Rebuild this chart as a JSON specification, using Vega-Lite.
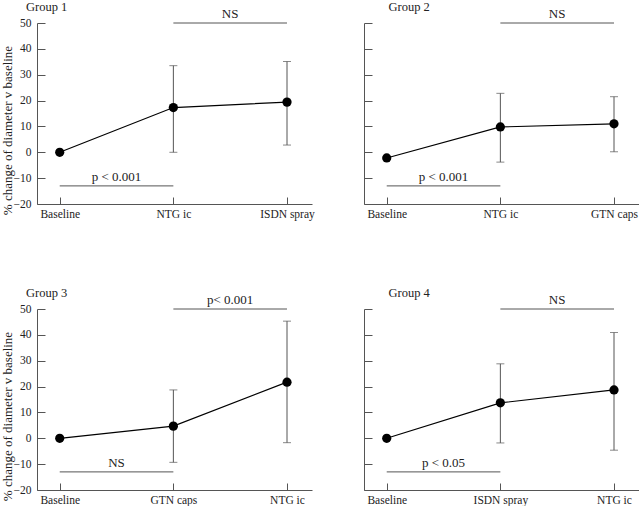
{
  "$schema": "https://vega.github.io/schema/vega-lite/v6.json",
  "padding": 0,
  "background": "white",
  "config": {
    "view": {"stroke": null},
    "font": "Liberation Serif",
    "axis": {"grid": false, "domainColor": "#555", "tickColor": "#555", "labelColor": "#222", "labelFont": "Liberation Serif", "labelFontSize": 11.5, "titleFont": "Liberation Serif", "titleFontWeight": "normal", "titleFontSize": 13, "titleColor": "#222"},
    "title": {"font": "Liberation Serif", "fontSize": 12.5, "fontWeight": "normal", "color": "#222", "anchor": "start", "dx": 25, "offset": -5}
  },
  "datasets": {
    "g1": [
      {"x": 0, "cond": "Baseline", "mean": 0},
      {"x": 1, "cond": "NTG ic", "mean": 17.3, "lo": 0, "hi": 33.5},
      {"x": 2, "cond": "ISDN spray", "mean": 19.4, "lo": 2.8, "hi": 35.1}
    ],
    "s1": [
      {"from": 1, "to": 2, "mid": 1.5, "y": 50, "label": "NS"},
      {"from": 0, "to": 1, "mid": 0.5, "y": -13, "label": "p < 0.001"}
    ],
    "g2": [
      {"x": 0, "cond": "Baseline", "mean": -2.2},
      {"x": 1, "cond": "NTG ic", "mean": 9.8, "lo": -3.8, "hi": 22.8},
      {"x": 2, "cond": "GTN caps", "mean": 11.0, "lo": 0.2, "hi": 21.5}
    ],
    "s2": [
      {"from": 1, "to": 2, "mid": 1.5, "y": 50, "label": "NS"},
      {"from": 0, "to": 1, "mid": 0.5, "y": -13, "label": "p < 0.001"}
    ],
    "g3": [
      {"x": 0, "cond": "Baseline", "mean": 0},
      {"x": 1, "cond": "GTN caps", "mean": 4.7, "lo": -9.3, "hi": 18.7},
      {"x": 2, "cond": "NTG ic", "mean": 21.7, "lo": -1.7, "hi": 45.3}
    ],
    "s3": [
      {"from": 1, "to": 2, "mid": 1.5, "y": 50, "label": "p< 0.001"},
      {"from": 0, "to": 1, "mid": 0.5, "y": -13, "label": "NS"}
    ],
    "g4": [
      {"x": 0, "cond": "Baseline", "mean": 0},
      {"x": 1, "cond": "ISDN spray", "mean": 13.7, "lo": -1.8, "hi": 28.8},
      {"x": 2, "cond": "NTG ic", "mean": 18.7, "lo": -4.6, "hi": 40.9}
    ],
    "s4": [
      {"from": 1, "to": 2, "mid": 1.5, "y": 50, "label": "NS"},
      {"from": 0, "to": 1, "mid": 0.5, "y": -13, "label": "p < 0.05"}
    ]
  },
  "columns": 2,
  "spacing": {"row": 105, "column": 52},
  "bounds": "flush",
  "concat": [
    {
      "title": "Group 1",
      "width": 275, "height": 181,
      "layer": [
        {"data": {"name": "g1"}, "mark": {"type": "rule", "color": "#555", "strokeWidth": 1},
         "encoding": {
           "x": {"field": "x", "type": "quantitative", "scale": {"domain": [-0.2, 2.22], "nice": false, "zero": false},
                 "axis": {"values": [0, 1, 2], "tickCount": 10, "title": null, "tickSize": -7, "labelPadding": 11, "labelExpr": "datum.value == 0 ? 'Baseline' : datum.value == 1 ? 'NTG ic' : 'ISDN spray'"}},
           "y": {"field": "lo", "type": "quantitative", "scale": {"domain": [-20, 50], "nice": false, "zero": false},
                 "axis": {"values": [-20, -10, 0, 10, 20, 30, 40, 50], "tickCount": 20, "tickSize": -8, "labelPadding": 14, "title": "% change of diameter v baseline", "titleX": -36, "titleY": 107, "titleBaseline": "top", "titleAlign": "center"}},
           "y2": {"field": "hi"}
         }},
        {"data": {"name": "g1"}, "mark": {"type": "tick", "orient": "horizontal", "size": 8, "thickness": 1, "color": "#555"},
         "encoding": {"x": {"field": "x", "type": "quantitative"}, "y": {"field": "lo", "type": "quantitative"}}},
        {"data": {"name": "g1"}, "mark": {"type": "tick", "orient": "horizontal", "size": 8, "thickness": 1, "color": "#555"},
         "encoding": {"x": {"field": "x", "type": "quantitative"}, "y": {"field": "hi", "type": "quantitative"}}},
        {"data": {"name": "s1"}, "mark": {"type": "rule", "color": "#555", "strokeWidth": 1},
         "encoding": {"x": {"field": "from", "type": "quantitative"}, "x2": {"field": "to"}, "y": {"field": "y", "type": "quantitative"}}},
        {"data": {"name": "s1"}, "mark": {"type": "text", "fontSize": 13, "baseline": "alphabetic", "dy": -5, "color": "#222"},
         "encoding": {"x": {"field": "mid", "type": "quantitative"}, "y": {"field": "y", "type": "quantitative"}, "text": {"field": "label"}}},
        {"data": {"name": "g1"}, "mark": {"type": "line", "color": "black", "strokeWidth": 1.2},
         "encoding": {"x": {"field": "x", "type": "quantitative"}, "y": {"field": "mean", "type": "quantitative"}}},
        {"data": {"name": "g1"}, "mark": {"type": "point", "filled": true, "color": "black", "opacity": 1, "size": 85},
         "encoding": {"x": {"field": "x", "type": "quantitative"}, "y": {"field": "mean", "type": "quantitative"}}}
      ]
    },
    {
      "title": "Group 2",
      "width": 275, "height": 181,
      "layer": [
        {"data": {"name": "g2"}, "mark": {"type": "rule", "color": "#555", "strokeWidth": 1},
         "encoding": {
           "x": {"field": "x", "type": "quantitative", "scale": {"domain": [-0.2, 2.22], "nice": false, "zero": false},
                 "axis": {"values": [0, 1, 2], "tickCount": 10, "title": null, "tickSize": -7, "labelPadding": 11, "labelExpr": "datum.value == 0 ? 'Baseline' : datum.value == 1 ? 'NTG ic' : 'GTN caps'"}},
           "y": {"field": "lo", "type": "quantitative", "scale": {"domain": [-20, 50], "nice": false, "zero": false},
                 "axis": {"values": [-20, -10, 0, 10, 20, 30, 40, 50], "tickCount": 20, "tickSize": -8, "labels": false, "title": null}},
           "y2": {"field": "hi"}
         }},
        {"data": {"name": "g2"}, "mark": {"type": "tick", "orient": "horizontal", "size": 8, "thickness": 1, "color": "#555"},
         "encoding": {"x": {"field": "x", "type": "quantitative"}, "y": {"field": "lo", "type": "quantitative"}}},
        {"data": {"name": "g2"}, "mark": {"type": "tick", "orient": "horizontal", "size": 8, "thickness": 1, "color": "#555"},
         "encoding": {"x": {"field": "x", "type": "quantitative"}, "y": {"field": "hi", "type": "quantitative"}}},
        {"data": {"name": "s2"}, "mark": {"type": "rule", "color": "#555", "strokeWidth": 1},
         "encoding": {"x": {"field": "from", "type": "quantitative"}, "x2": {"field": "to"}, "y": {"field": "y", "type": "quantitative"}}},
        {"data": {"name": "s2"}, "mark": {"type": "text", "fontSize": 13, "baseline": "alphabetic", "dy": -5, "color": "#222"},
         "encoding": {"x": {"field": "mid", "type": "quantitative"}, "y": {"field": "y", "type": "quantitative"}, "text": {"field": "label"}}},
        {"data": {"name": "g2"}, "mark": {"type": "line", "color": "black", "strokeWidth": 1.2},
         "encoding": {"x": {"field": "x", "type": "quantitative"}, "y": {"field": "mean", "type": "quantitative"}}},
        {"data": {"name": "g2"}, "mark": {"type": "point", "filled": true, "color": "black", "opacity": 1, "size": 85},
         "encoding": {"x": {"field": "x", "type": "quantitative"}, "y": {"field": "mean", "type": "quantitative"}}}
      ]
    },
    {
      "title": "Group 3",
      "width": 275, "height": 181,
      "layer": [
        {"data": {"name": "g3"}, "mark": {"type": "rule", "color": "#555", "strokeWidth": 1},
         "encoding": {
           "x": {"field": "x", "type": "quantitative", "scale": {"domain": [-0.2, 2.22], "nice": false, "zero": false},
                 "axis": {"values": [0, 1, 2], "tickCount": 10, "title": null, "tickSize": -7, "labelPadding": 11, "labelExpr": "datum.value == 0 ? 'Baseline' : datum.value == 1 ? 'GTN caps' : 'NTG ic'"}},
           "y": {"field": "lo", "type": "quantitative", "scale": {"domain": [-20, 50], "nice": false, "zero": false},
                 "axis": {"values": [-20, -10, 0, 10, 20, 30, 40, 50], "tickCount": 20, "tickSize": -8, "labelPadding": 14, "title": "% change of diameter v baseline", "titleX": -36, "titleY": 107, "titleBaseline": "top", "titleAlign": "center"}},
           "y2": {"field": "hi"}
         }},
        {"data": {"name": "g3"}, "mark": {"type": "tick", "orient": "horizontal", "size": 8, "thickness": 1, "color": "#555"},
         "encoding": {"x": {"field": "x", "type": "quantitative"}, "y": {"field": "lo", "type": "quantitative"}}},
        {"data": {"name": "g3"}, "mark": {"type": "tick", "orient": "horizontal", "size": 8, "thickness": 1, "color": "#555"},
         "encoding": {"x": {"field": "x", "type": "quantitative"}, "y": {"field": "hi", "type": "quantitative"}}},
        {"data": {"name": "s3"}, "mark": {"type": "rule", "color": "#555", "strokeWidth": 1},
         "encoding": {"x": {"field": "from", "type": "quantitative"}, "x2": {"field": "to"}, "y": {"field": "y", "type": "quantitative"}}},
        {"data": {"name": "s3"}, "mark": {"type": "text", "fontSize": 13, "baseline": "alphabetic", "dy": -5, "color": "#222"},
         "encoding": {"x": {"field": "mid", "type": "quantitative"}, "y": {"field": "y", "type": "quantitative"}, "text": {"field": "label"}}},
        {"data": {"name": "g3"}, "mark": {"type": "line", "color": "black", "strokeWidth": 1.2},
         "encoding": {"x": {"field": "x", "type": "quantitative"}, "y": {"field": "mean", "type": "quantitative"}}},
        {"data": {"name": "g3"}, "mark": {"type": "point", "filled": true, "color": "black", "opacity": 1, "size": 85},
         "encoding": {"x": {"field": "x", "type": "quantitative"}, "y": {"field": "mean", "type": "quantitative"}}}
      ]
    },
    {
      "title": "Group 4",
      "width": 275, "height": 181,
      "layer": [
        {"data": {"name": "g4"}, "mark": {"type": "rule", "color": "#555", "strokeWidth": 1},
         "encoding": {
           "x": {"field": "x", "type": "quantitative", "scale": {"domain": [-0.2, 2.22], "nice": false, "zero": false},
                 "axis": {"values": [0, 1, 2], "tickCount": 10, "title": null, "tickSize": -7, "labelPadding": 11, "labelExpr": "datum.value == 0 ? 'Baseline' : datum.value == 1 ? 'ISDN spray' : 'NTG ic'"}},
           "y": {"field": "lo", "type": "quantitative", "scale": {"domain": [-20, 50], "nice": false, "zero": false},
                 "axis": {"values": [-20, -10, 0, 10, 20, 30, 40, 50], "tickCount": 20, "tickSize": -8, "labels": false, "title": null}},
           "y2": {"field": "hi"}
         }},
        {"data": {"name": "g4"}, "mark": {"type": "tick", "orient": "horizontal", "size": 8, "thickness": 1, "color": "#555"},
         "encoding": {"x": {"field": "x", "type": "quantitative"}, "y": {"field": "lo", "type": "quantitative"}}},
        {"data": {"name": "g4"}, "mark": {"type": "tick", "orient": "horizontal", "size": 8, "thickness": 1, "color": "#555"},
         "encoding": {"x": {"field": "x", "type": "quantitative"}, "y": {"field": "hi", "type": "quantitative"}}},
        {"data": {"name": "s4"}, "mark": {"type": "rule", "color": "#555", "strokeWidth": 1},
         "encoding": {"x": {"field": "from", "type": "quantitative"}, "x2": {"field": "to"}, "y": {"field": "y", "type": "quantitative"}}},
        {"data": {"name": "s4"}, "mark": {"type": "text", "fontSize": 13, "baseline": "alphabetic", "dy": -5, "color": "#222"},
         "encoding": {"x": {"field": "mid", "type": "quantitative"}, "y": {"field": "y", "type": "quantitative"}, "text": {"field": "label"}}},
        {"data": {"name": "g4"}, "mark": {"type": "line", "color": "black", "strokeWidth": 1.2},
         "encoding": {"x": {"field": "x", "type": "quantitative"}, "y": {"field": "mean", "type": "quantitative"}}},
        {"data": {"name": "g4"}, "mark": {"type": "point", "filled": true, "color": "black", "opacity": 1, "size": 85},
         "encoding": {"x": {"field": "x", "type": "quantitative"}, "y": {"field": "mean", "type": "quantitative"}}}
      ]
    }
  ]
}
